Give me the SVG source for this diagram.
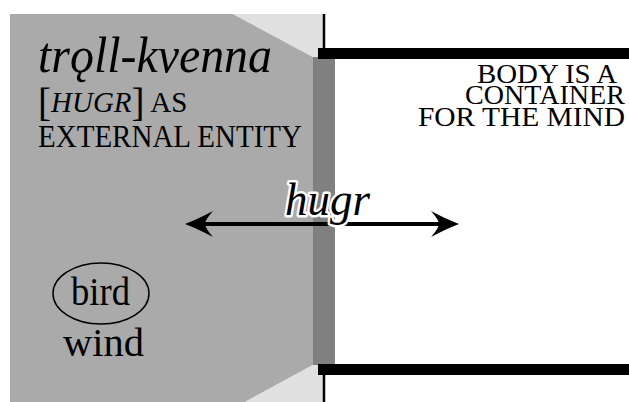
<svg xmlns="http://www.w3.org/2000/svg" width="629" height="402" viewBox="0 0 629 402">
  <style>
    .serif { font-family: "Liberation Serif", "DejaVu Serif", serif; fill: #000; }
    .it { font-style: italic; }
    .bar { fill: #000; }
    .post { stroke: #000; stroke-width: 2.5; fill: none; }
    .halo { paint-order: stroke; stroke: #fff; stroke-width: 5; stroke-linejoin: round; }
  </style>
  <defs>
    <marker id="barb" markerUnits="userSpaceOnUse" viewBox="0 0 28 28" refX="20" refY="14" markerWidth="28" markerHeight="28" orient="auto-start-reverse">
      <path d="M28,14 Q15,9 0,1 Q8,10 8,14 Q8,18 0,27 Q15,19 28,14 Z" fill="#000"/>
    </marker>
  </defs>

  <rect width="629" height="402" fill="#fff"/>

  <!-- external entity region -->
  <g id="external">
    <polygon points="10,14 233,14 313,57 313,365 245,402 10,402" fill="#aaaaaa"/>
    <polygon points="233,14 324,14 324,57 313,57" fill="#e0e0e0"/>
    <polygon points="313,365 324,365 324,402 245,402" fill="#e0e0e0"/>
    <text class="serif it" x="38" y="72" font-size="51" textLength="234" lengthAdjust="spacingAndGlyphs">trǫll-kvenna</text>
    <text class="serif" x="38" y="112" font-size="29"><tspan font-size="39" dy="4">[</tspan><tspan class="it" dy="-4">HUGR</tspan><tspan font-size="39" dy="4">]</tspan><tspan dy="-4"> AS</tspan></text>
    <text class="serif" x="38" y="147" font-size="30.5" textLength="264" lengthAdjust="spacingAndGlyphs">EXTERNAL ENTITY</text>
  </g>

  <!-- bird / wind -->
  <g id="bird">
    <ellipse cx="101" cy="293.5" rx="48" ry="30.5" fill="none" stroke="#000" stroke-width="1.5"/>
    <text class="serif" x="71" y="305" font-size="40" textLength="59" lengthAdjust="spacingAndGlyphs">bird</text>
  </g>
  <g id="wind">
    <text class="serif" x="63" y="356" font-size="40" textLength="81" lengthAdjust="spacingAndGlyphs">wind</text>
  </g>

  <!-- container body -->
  <g id="container">
    <rect x="313" y="57" width="22" height="308" fill="#808080"/>
    <rect class="bar" x="318" y="48" width="311" height="11"/>
    <rect class="bar" x="318" y="364" width="311" height="11"/>
    <line class="post" x1="324" y1="14" x2="324" y2="48"/>
    <line class="post" x1="324" y1="375" x2="324" y2="402"/>
    <text class="serif" x="617" y="82.5" font-size="28" text-anchor="end" textLength="140" lengthAdjust="spacingAndGlyphs">BODY IS A</text>
    <text class="serif" x="625" y="104" font-size="28" text-anchor="end" textLength="160" lengthAdjust="spacingAndGlyphs">CONTAINER</text>
    <text class="serif" x="625" y="126" font-size="28" text-anchor="end" textLength="207" lengthAdjust="spacingAndGlyphs">FOR THE MIND</text>
  </g>

  <!-- connectors -->
  <g id="connectors">
    <line x1="193" y1="224" x2="451" y2="224" stroke="#000" stroke-width="4" marker-start="url(#barb)" marker-end="url(#barb)"/>
    <text class="serif it halo" x="285" y="215" font-size="47" textLength="85" lengthAdjust="spacingAndGlyphs">hugr</text>
  </g>
</svg>
